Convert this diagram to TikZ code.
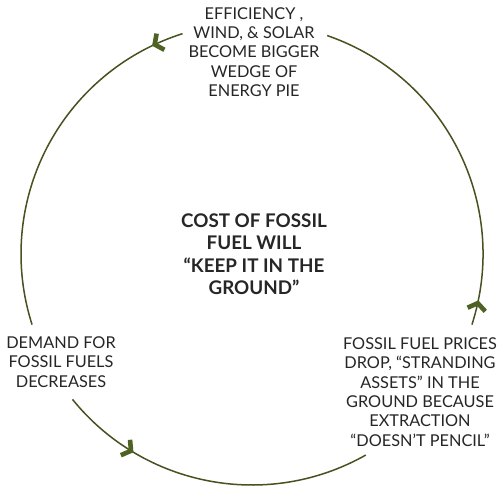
\documentclass[tikz,border=0pt]{standalone}
\usepackage{fontspec}
\setmainfont{Lato}
\usetikzlibrary{arrows.meta,decorations.markings,calc}
\definecolor{olive}{RGB}{70,82,32}
\definecolor{chevcol}{RGB}{78,98,36}
\definecolor{txt}{RGB}{38,38,38}
\tikzset{
  label/.style={align=center, text=txt, font=\fontsize{16.3}{19.3}\selectfont, inner sep=0pt},
  centerlabel/.style={align=center, text=txt, font=\fontsize{18.8}{22.5}\selectfont\bfseries, inner sep=0pt},
  cyc/.style={draw=olive, line width=1.5pt},
  chev/.style={decoration={markings, mark=at position #1 with {\arrow[chevcol]{Straight Barb[length=6.5pt,width=18pt,line width=4.6pt]}}}, postaction={decorate}}
}
\begin{document}
\begin{tikzpicture}[x=1pt,y=1pt]
\path[use as bounding box, fill=white] (0,0) rectangle (500,488);
\coordinate (C) at (252,234);
% labels
\node[label] (top) at (254,436) {EFFICIENCY ,\\WIND, \& SOLAR\\BECOME BIGGER\\WEDGE OF\\ENERGY PIE};
\node[label] (left) at (61,126) {DEMAND FOR\\FOSSIL FUELS\\DECREASES};
\node[label] (right) at (420,96) {FOSSIL FUEL PRICES\\DROP, “STRANDING\\ASSETS” IN THE\\GROUND BECAUSE\\EXTRACTION\\“DOESN’T PENCIL”};
\node[centerlabel] (mid) at (254,234) {COST OF FOSSIL\\FUEL WILL\\“KEEP IT IN THE\\GROUND”};
% arc end points
\coordinate (a1) at ($(C)+(107.5:231)$);
\coordinate (b1) at ($(C)+(219:231)$);
\coordinate (c1) at ($(C)+(-17.8:231)$);
% arcs
\draw[cyc, chev=0.09] (a1) arc[start angle=107.5, end angle=197.8, radius=231pt];
\draw[cyc, chev=0.25] (b1) arc[start angle=219, end angle=299.5, radius=231pt];
\draw[cyc, chev=0.07] (c1) arc[start angle=-17.8, end angle=71, radius=231pt];
\end{tikzpicture}
\end{document}
